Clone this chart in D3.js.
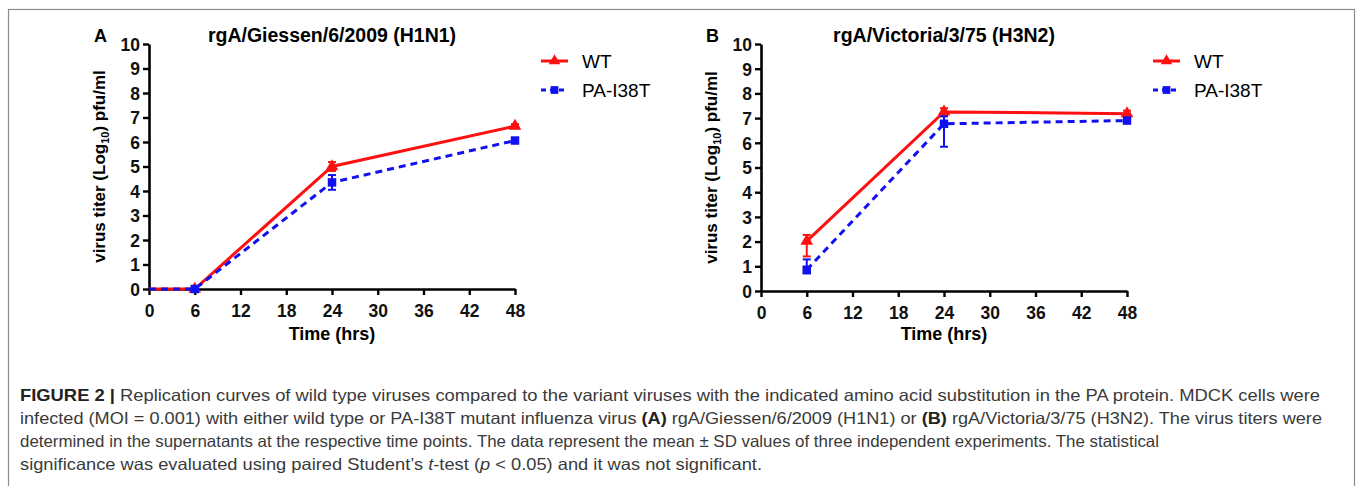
<!DOCTYPE html>
<html>
<head>
<meta charset="utf-8">
<script src="https://cdn.jsdelivr.net/npm/d3@7"></script>
<style>
  body { margin: 0; background: #fff; }
  svg { display: block; }
</style>
</head>
<body>
<svg id="fig" width="1358" height="486"></svg>
<script>
// Tick values shared by both panels
var hourTicks = [0, 6, 12, 18, 24, 30, 36, 42, 48];
var titerTicks = [0, 1, 2, 3, 4, 5, 6, 7, 8, 9, 10];
var seriesNames = ["WT", "PA-I38T"];

// Panel A : rgA/Giessen/6/2009 (H1N1)
var hoursA = [0, 6, 24, 48];
var wtA = [0, 0, 5.0, 6.65];
var wtA_lo = [0, 0, 0.18, 0.08];
var wtA_hi = [0, 0, 0.18, 0.08];
var mutA = [0, 0, 4.35, 6.06];
var mutA_lo = [0, 0, 0.3, 0.1];
var mutA_hi = [0, 0, 0.3, 0.1];

// Panel B : rgA/Victoria/3/75 (H3N2)
var hoursB = [6, 24, 48];
var wtB = [2.02, 7.25, 7.18];
var wtB_lo = [0.62, 0.15, 0.12];
var wtB_hi = [0.25, 0.15, 0.12];
var mutB = [0.86, 6.77, 6.9];
var mutB_lo = [0.15, 0.93, 0.08];
var mutB_hi = [0.42, 0.3, 0.08];

var panels = [
  { letter: "A", title: "rgA/Giessen/6/2009 (H1N1)", left: 149, right: 515, top: 44, bottom: 289, legendX: 541,
    series: [
      { name: seriesNames[0], x: hoursA, y: wtA, lo: wtA_lo, hi: wtA_hi },
      { name: seriesNames[1], x: hoursA, y: mutA, lo: mutA_lo, hi: mutA_hi }
    ] },
  { letter: "B", title: "rgA/Victoria/3/75 (H3N2)", left: 761, right: 1127, top: 44, bottom: 291, legendX: 1153,
    series: [
      { name: seriesNames[0], x: hoursB, y: wtB, lo: wtB_lo, hi: wtB_hi },
      { name: seriesNames[1], x: hoursB, y: mutB, lo: mutB_lo, hi: mutB_hi }
    ] }
];

var styles = [
  { color: "#ff1010", dash: null, symbol: d3.symbolTriangle, size: 70 },
  { color: "#1010f0", dash: "7,5", symbol: d3.symbolSquare, size: 72 }
];

var svg = d3.select("#fig");
var boldFont = "'Liberation Sans', Arial, sans-serif";

// outer frame of the figure
svg.append("rect")
   .attr("x", 8.5).attr("y", 9.5)
   .attr("width", 1346).attr("height", 500)
   .style("fill", "none").style("stroke", "#8a8a8a").style("stroke-width", 1.2);

panels.forEach(function(p) {

  var x = d3.scaleLinear().domain([0, 48]).range([p.left, p.right]);
  var y = d3.scaleLinear().domain([0, 10]).range([p.bottom, p.top]);
  var g = svg.append("g");

  // axes
  var xAxis = g.append("g").attr("transform", "translate(0," + p.bottom + ")")
      .call(d3.axisBottom(x).tickValues(hourTicks).tickSize(6).tickPadding(6).tickSizeOuter(0));
  var yAxis = g.append("g").attr("transform", "translate(" + p.left + ",0)")
      .call(d3.axisLeft(y).tickValues(titerTicks).tickSize(6).tickPadding(3).tickSizeOuter(0));

  [xAxis, yAxis].forEach(function(a) {
    a.select(".domain").style("stroke", "#000").style("stroke-width", 2.6);
    a.selectAll(".tick line").style("stroke", "#000").style("stroke-width", 2.4);
    a.selectAll(".tick text").style("font-family", boldFont).style("font-weight", "bold")
     .style("font-size", "17.5px").style("fill", "#111");
  });
  xAxis.selectAll(".tick text").attr("dy", "0.9em");
  yAxis.selectAll(".tick text").attr("dy", "0.36em");

  // titles
  g.append("text")
   .attr("x", (p.left + p.right) / 2).attr("y", 42)
   .attr("text-anchor", "middle")
   .style("font-family", boldFont).style("font-weight", "bold").style("font-size", "19.5px")
   .text(p.title);

  g.append("text")
   .attr("x", p.left - 55).attr("y", 42)
   .style("font-family", boldFont).style("font-weight", "bold").style("font-size", "18px")
   .text(p.letter);

  g.append("text")
   .attr("x", (p.left + p.right) / 2).attr("y", 340)
   .attr("text-anchor", "middle")
   .style("font-family", boldFont).style("font-weight", "bold").style("font-size", "18px")
   .text("Time (hrs)");

  var yt = g.append("text")
   .attr("transform", "translate(" + (p.left - 44) + "," + ((p.top + p.bottom) / 2) + ") rotate(-90)")
   .attr("text-anchor", "middle")
   .style("font-family", boldFont).style("font-weight", "bold").style("font-size", "17px");
  yt.append("tspan").text("virus titer (Log");
  yt.append("tspan").attr("dy", 4).style("font-size", "11px").text("10");
  yt.append("tspan").attr("dy", -4).text(") pfu/ml");

  // series : error bars, lines, markers
  p.series.forEach(function(s, si) {
    var st = styles[si];
    var pts = s.x.map(function(h, i) { return { h: h, v: s.y[i], lo: s.lo[i], hi: s.hi[i] }; });

    var eb = g.append("g").selectAll("g").data(pts.filter(function(d) { return d.lo > 0 || d.hi > 0; }))
      .enter().append("g").style("stroke", st.color).style("stroke-width", 2);
    eb.append("line")
      .attr("x1", function(d) { return x(d.h); }).attr("x2", function(d) { return x(d.h); })
      .attr("y1", function(d) { return y(d.v - d.lo); }).attr("y2", function(d) { return y(d.v + d.hi); });
    eb.append("line")
      .attr("x1", function(d) { return x(d.h) - 4; }).attr("x2", function(d) { return x(d.h) + 4; })
      .attr("y1", function(d) { return y(d.v + d.hi); }).attr("y2", function(d) { return y(d.v + d.hi); });
    eb.append("line")
      .attr("x1", function(d) { return x(d.h) - 4; }).attr("x2", function(d) { return x(d.h) + 4; })
      .attr("y1", function(d) { return y(d.v - d.lo); }).attr("y2", function(d) { return y(d.v - d.lo); });

    var line = d3.line().x(function(d) { return x(d.h); }).y(function(d) { return y(d.v); });
    g.append("path").datum(pts)
     .attr("d", line)
     .style("fill", "none").style("stroke", st.color).style("stroke-width", 3)
     .style("stroke-dasharray", st.dash);

    g.append("g").selectAll("path").data(pts.filter(function(d) { return d.h > 0; }))
     .enter().append("path")
     .attr("transform", function(d) { return "translate(" + x(d.h) + "," + y(d.v) + ")"; })
     .attr("d", d3.symbol().type(st.symbol).size(st.size))
     .style("fill", st.color);

    // legend entry
    var ly = 61 + si * 29;
    var lg = g.append("g");
    lg.append("line")
      .attr("x1", p.legendX).attr("x2", p.legendX + 27).attr("y1", ly).attr("y2", ly)
      .style("stroke", st.color).style("stroke-width", 3).style("stroke-dasharray", st.dash ? "5,4" : null);
    lg.append("path")
      .attr("transform", "translate(" + (p.legendX + 13.5) + "," + ly + ")")
      .attr("d", d3.symbol().type(st.symbol).size(st.size - 12))
      .style("fill", st.color);
    lg.append("text")
      .attr("x", p.legendX + 41).attr("y", ly + 7)
      .style("font-family", "'Liberation Sans', Arial, sans-serif").style("font-size", "19px")
      .text(s.name);
  });
});

// caption, one array of segments per printed line
var caption1 = [["b", "FIGURE 2 |"], ["", " Replication curves of wild type viruses compared to the variant viruses with the indicated amino acid substitution in the PA protein. MDCK cells were"]];
var caption2 = [["", "infected (MOI = 0.001) with either wild type or PA-I38T mutant influenza virus "], ["b", "(A)"], ["", " rgA/Giessen/6/2009 (H1N1) or "], ["b", "(B)"], ["", " rgA/Victoria/3/75 (H3N2). The virus titers were"]];
var caption3 = [["", "determined in the supernatants at the respective time points. The data represent the mean \u00b1 SD values of three independent experiments. The statistical"]];
var caption4 = [["", "significance was evaluated using paired Student\u2019s "], ["i", "t"], ["", "-test ("], ["i", "p"], ["", " < 0.05) and it was not significant."]];
var captionLines = [caption1, caption2, caption3, caption4];
var captionWidths = [1300, 1302, 1139, 742];

captionLines.forEach(function(segs, li) {
  var t = svg.append("text")
    .attr("x", 20).attr("y", 401 + li * 23)
    .attr("textLength", captionWidths[li]).attr("lengthAdjust", "spacingAndGlyphs")
    .style("font-family", "'Liberation Sans Narrow', 'Arial Narrow', 'Liberation Sans', sans-serif")
    .style("font-size", "16.5px").style("fill", "#3a3a3a");
  segs.forEach(function(sg) {
    var ts = t.append("tspan").text(sg[1]);
    if (sg[0] === "b") ts.style("font-weight", "bold").style("fill", "#222");
    if (sg[0] === "i") ts.style("font-style", "italic");
  });
});
</script>
</body>
</html>
